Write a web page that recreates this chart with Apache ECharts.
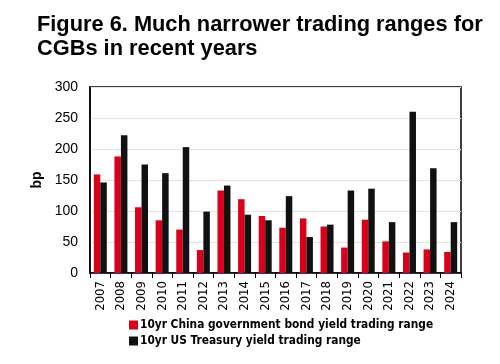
<!DOCTYPE html>
<html><head><meta charset="utf-8">
<script src="https://cdn.jsdelivr.net/npm/echarts@6/dist/echarts.min.js"></script>
<style>html,body{margin:0;padding:0;background:#fff}#c{width:500px;height:364px}</style>
</head><body><div id="c"></div>
<script>
var years = ['2007','2008','2009','2010','2011','2012','2013','2014','2015','2016','2017','2018','2019','2020','2021','2022','2023','2024'];
var chinaRange = [159,188,106,85,70,37,133,119,92,73,88,75,41,86,51,33,38,34];
var usRange = [146,222,175,161,203,99,141,94,85,124,58,78,133,136,82,260,169,82];
var yTicks = [0,50,100,150,200,250,300];
var narrow = "'DejaVu Sans Condensed', 'Liberation Sans', sans-serif";
var chart = echarts.init(document.getElementById('c'));
chart.setOption({
  animation:false,
  title:{text:'Figure 6. Much narrower trading ranges for\nCGBs in recent years',left:32,top:8,
    textStyle:{fontFamily:'Liberation Sans',fontWeight:'bold',fontSize:21.8,lineHeight:24,color:'#000'}},
  grid:{left:90,right:39,top:87,bottom:91,show:true,borderColor:'#000',borderWidth:1.5},
  legend:{orient:'vertical',left:124,top:314,itemGap:4,itemWidth:9,itemHeight:9,icon:'rect',
    textStyle:{fontFamily:narrow,fontWeight:'bold',fontSize:11.8,color:'#000',padding:[0,0,0,-3]}},
  xAxis:{type:'category',data:years,
    axisLine:{lineStyle:{color:'#000',width:1.5}},
    axisTick:{show:true,alignWithLabel:false,length:5,lineStyle:{color:'#000'}},
    axisLabel:{rotate:90,fontFamily:narrow,fontSize:13,color:'#000',margin:8}},
  yAxis:{type:'value',min:0,max:300,interval:50,name:'bp',nameLocation:'middle',nameGap:43,
    nameTextStyle:{fontFamily:'Liberation Sans',fontWeight:'bold',fontSize:14,color:'#000'},
    axisLine:{show:true,lineStyle:{color:'#000',width:1.5}},axisTick:{show:false},
    axisLabel:{fontFamily:'Liberation Sans',fontSize:14,color:'#000',margin:12},
    splitLine:{lineStyle:{color:'#e3e3e3',width:1}}},
  series:[
    {name:'10yr China government bond yield trading range',type:'bar',data:chinaRange,barWidth:6.5,barGap:'0%',itemStyle:{color:'#d9001b'}},
    {name:'10yr US Treasury yield trading range',type:'bar',data:usRange,barWidth:6.5,barGap:'0%',itemStyle:{color:'#111111'}}
  ]
});
</script></body></html>
